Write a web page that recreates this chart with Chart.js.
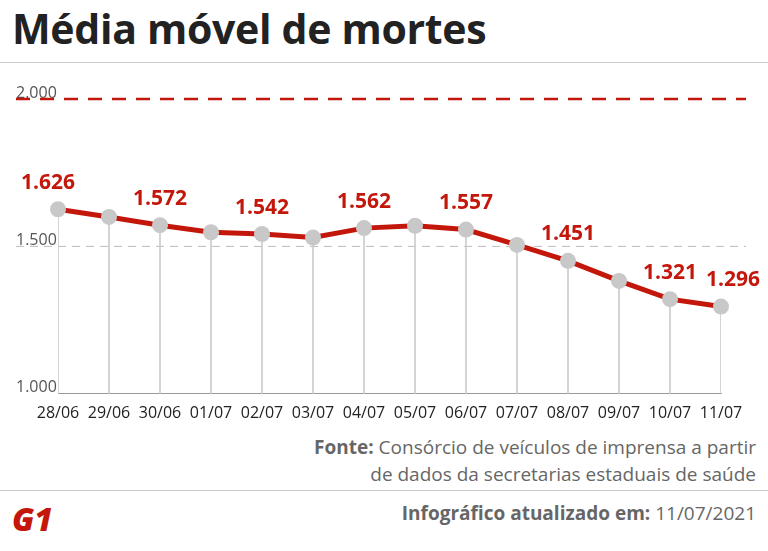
<!DOCTYPE html>
<html><head><meta charset="utf-8">
<script src="https://cdn.jsdelivr.net/npm/chart.js@4/dist/chart.umd.min.js"></script>
<style>
body{margin:0;width:768px;height:551px;background:#fff;font-family:"Open Sans",sans-serif;position:relative;overflow:hidden}
#t{position:absolute;left:12px;top:0px;font-size:41px;font-weight:700;color:#222;letter-spacing:-0.3px}
#hr1{position:absolute;left:0;right:0;top:62px;border-top:1px solid #ccc}
#wrap{position:absolute;left:0;top:70px;width:768px;height:355px}
.f{position:absolute;right:12px;font-size:19px;color:#666;text-align:right;line-height:27px}
#hr2{position:absolute;left:0;right:0;top:490px;border-top:1px solid #ccc}
#g1{position:absolute;left:12px;top:504px;width:46px;height:30px;color:#c4170c;font-weight:800;font-size:32px;font-style:italic;line-height:30px}
</style></head><body>
<div id="t">Média móvel de mortes</div>
<div id="hr1"></div>
<div id="wrap"><canvas id="c"></canvas></div>
<div class="f" style="top:434px"><b>Fonte:</b> Consórcio de veículos de imprensa a partir<br>de dados da secretarias estaduais de saúde</div>
<div id="hr2"></div>
<div id="g1">G1</div>
<div class="f" style="top:500px"><b>Infográfico atualizado em:</b> 11/07/2021</div>
<script>
const categories=["28/06","29/06","30/06","01/07","02/07","03/07","04/07","05/07","06/07","07/07","08/07","09/07","10/07","11/07"];
const values=[1626,1600,1572,1548,1542,1530,1562,1570,1557,1505,1451,1383,1321,1296];
const labelled=[true,false,true,false,true,false,true,false,true,false,true,false,true,true];
const yTicks=[1000,1500,2000];
const RED="#c4170c";
const deco={id:"deco",
 beforeDatasetsDraw(ch){const {ctx,chartArea:a,scales:{y}}=ch;ctx.save();ctx.font="16px 'Open Sans'";ctx.fillStyle="#555";ctx.textAlign="left";ctx.textBaseline="bottom";
  yTicks.forEach(v=>{const p=y.getPixelForValue(v);ctx.fillText(v.toLocaleString("pt-BR"),16,p+2);
   ctx.beginPath();ctx.setLineDash(v===2000?[14,10]:[8,6]);ctx.strokeStyle=v===2000?RED:"#bbb";ctx.lineWidth=v===2000?2.5:1;
   if(v!==1000){ctx.moveTo(16,p);ctx.lineTo(a.right+25,p);ctx.stroke();}});
  ctx.restore();},
 afterDatasetsDraw(ch){const {ctx}=ch;const m=ch.getDatasetMeta(1);ctx.save();ctx.font="bold 21px 'Open Sans'";ctx.fillStyle=RED;ctx.textAlign="center";ctx.textBaseline="bottom";
  const n=values.length;
  m.data.forEach((pt,i)=>{if(labelled[i])ctx.fillText(values[i].toLocaleString("pt-BR"),pt.x+(i===0?-10:(i===n-1?12:0)),pt.y-16);});ctx.restore();}};
new Chart(document.getElementById("c"),{
 data:{labels:categories,datasets:[
  {type:"bar",data:values,backgroundColor:"#ccc",barThickness:1,order:2},
  {type:"line",data:values,borderColor:RED,borderWidth:5,pointRadius:8,pointHoverRadius:8,pointBackgroundColor:"#c8c8c8",pointBorderWidth:0,tension:0,order:1}]},
 options:{responsive:true,maintainAspectRatio:false,animation:false,
  layout:{padding:{left:58,right:47,top:29,bottom:0}},
  plugins:{legend:{display:false},tooltip:{enabled:false}},
  scales:{x:{offset:false,grid:{display:false},border:{color:"#999"},ticks:{color:"#222",font:{size:16,family:"Open Sans"},maxRotation:0,autoSkip:false,padding:2}},
   y:{min:1000,max:2000,display:false}}},
 plugins:[deco]});
</script></body></html>
